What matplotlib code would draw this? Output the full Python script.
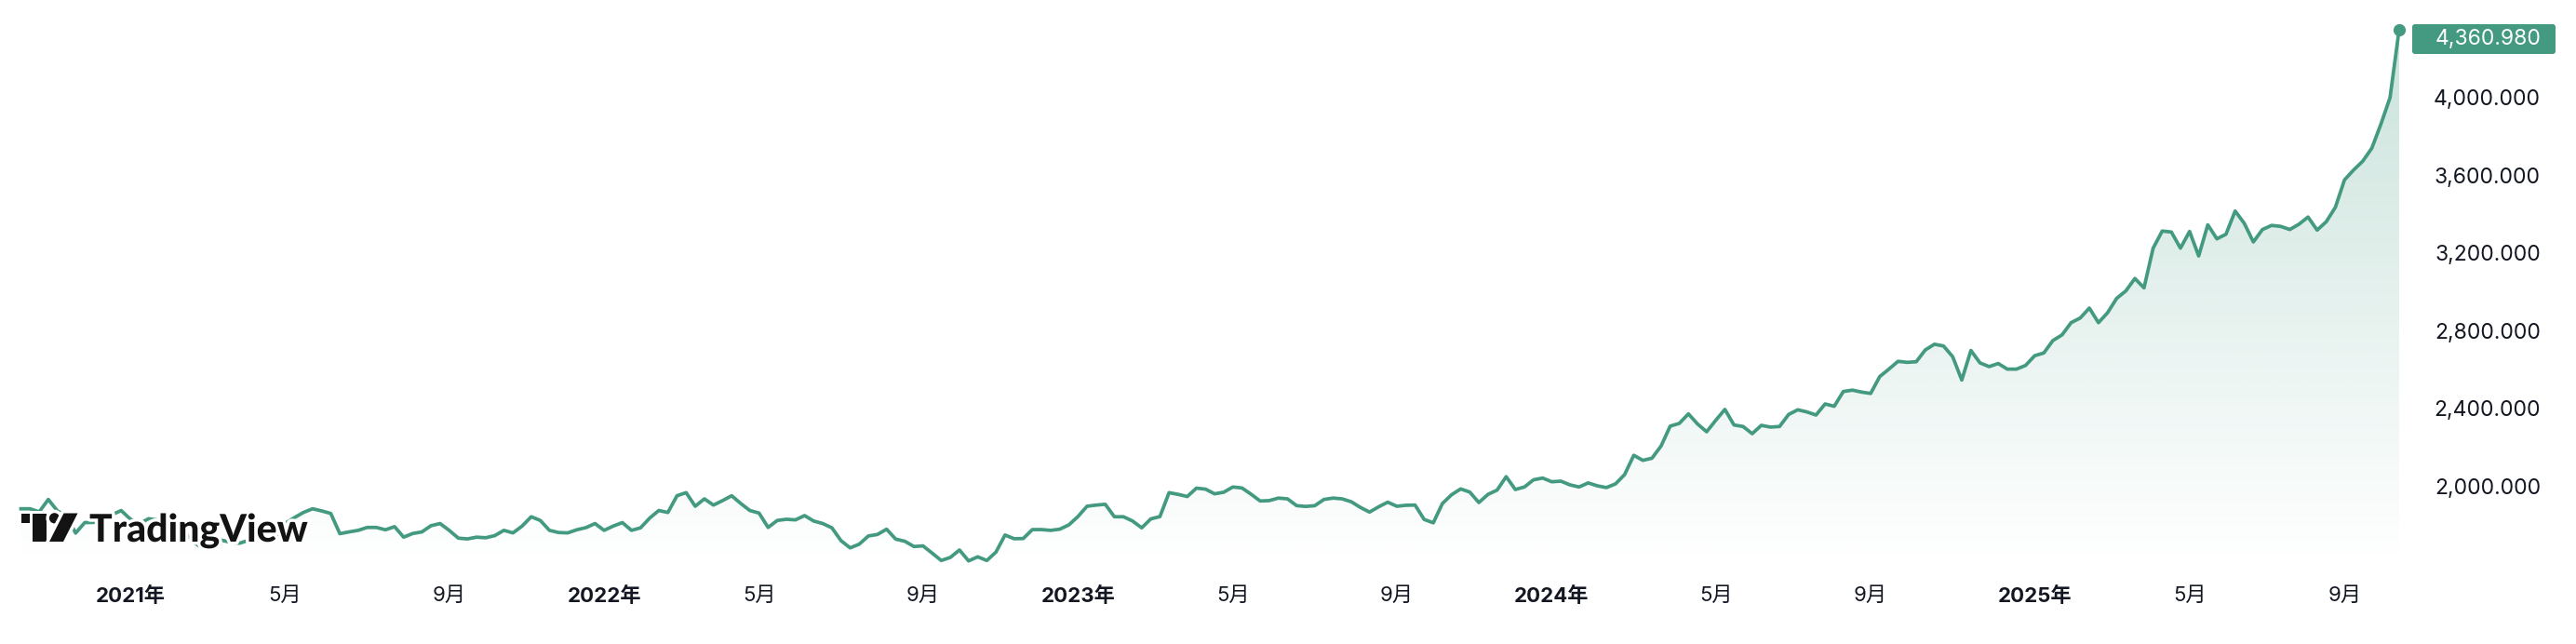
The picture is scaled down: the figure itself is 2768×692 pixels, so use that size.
import numpy as np
import pandas as pd
import matplotlib
matplotlib.use("Agg")
import matplotlib.pyplot as plt
import matplotlib.dates as mdates
import matplotlib.patheffects as pe
from matplotlib.patches import Rectangle, Circle, Polygon, FancyBboxPatch

# weekly closes (weeks starting Monday)
start_date = "2020-10-12"
v2020 = [1896, 1896, 1880, 1944, 1885, 1861, 1771, 1825, 1826, 1870, 1866, 1887]
v2021 = [1843, 1819, 1845, 1838, 1804, 1814, 1774, 1722, 1692, 1717, 1735, 1723, 1719,
         1734, 1767, 1767, 1759, 1821, 1850, 1877, 1896, 1885, 1872, 1768, 1777, 1785,
         1800, 1800, 1788, 1804, 1750, 1769, 1777, 1809, 1820, 1785, 1745, 1741, 1750,
         1747, 1758, 1785, 1772, 1807, 1855, 1836, 1785, 1774, 1772, 1788, 1799, 1820]
v2022 = [1785, 1807, 1825, 1785, 1798, 1848, 1887, 1877, 1963, 1979, 1909, 1947, 1915,
         1938, 1963, 1923, 1887, 1874, 1800, 1836, 1842, 1839, 1861, 1833, 1820, 1798,
         1732, 1695, 1714, 1756, 1764, 1791, 1740, 1729, 1702, 1705, 1668, 1630, 1646,
         1684, 1628, 1649, 1630, 1673, 1761, 1742, 1743, 1789, 1789, 1785, 1791, 1813]
v2023 = [1856, 1909, 1915, 1919, 1855, 1855, 1833, 1798, 1844, 1856, 1979, 1970, 1959,
         2002, 1997, 1973, 1981, 2008, 2003, 1971, 1936, 1938, 1951, 1947, 1912, 1908,
         1912, 1944, 1951, 1947, 1932, 1903, 1879, 1906, 1930, 1909, 1914, 1915, 1841,
         1824, 1923, 1968, 1998, 1982, 1928, 1970, 1992, 2061, 1995, 2008, 2045, 2054]
v2024 = [2035, 2038, 2019, 2008, 2029, 2014, 2005, 2024, 2072, 2171, 2145, 2156, 2219,
         2321, 2335, 2384, 2332, 2292, 2351, 2407, 2327, 2319, 2282, 2325, 2316, 2319,
         2381, 2405, 2394, 2378, 2435, 2423, 2499, 2506, 2496, 2489, 2576, 2614, 2654,
         2649, 2652, 2713, 2742, 2733, 2678, 2558, 2710, 2646, 2627, 2643, 2614, 2614, 2633]
v2025 = [2683, 2697, 2761, 2790, 2853, 2877, 2928, 2853, 2904, 2978, 3016, 3080, 3032,
         3236, 3324, 3319, 3236, 3322, 3196, 3356, 3284, 3308, 3427, 3364, 3268, 3332,
         3353, 3348, 3332, 3359, 3396, 3329, 3372, 3446, 3587, 3638, 3683, 3750, 3874,
         4010, 4360.98]

y_ticks = [2000, 2400, 2800, 3200, 3600, 4000]
tick_months = [1, 5, 9]

values = np.array(v2020 + v2021 + v2022 + v2023 + v2024 + v2025, dtype=float)
dates = pd.date_range(start_date, periods=len(values), freq="7D")

W, H = 2768, 692
LINE = "#439a80"
TEXT = "#131722"
FONT = ["Inter", "Noto Sans CJK SC", "DejaVu Sans"]

fig = plt.figure(figsize=(W / 100, H / 100), dpi=100)
plot_right, plot_bottom = 2590, 605
ax = fig.add_axes([0, 1 - plot_bottom / H, plot_right / W, plot_bottom / H])

y_lo, y_hi = 1617, 4512
x = mdates.date2num(dates)
ax.plot(dates, values, color=LINE, lw=2.7, zorder=3, solid_joinstyle="round")
ax.plot(dates[-1:], values[-1:], "o", color=LINE, ms=8.5, zorder=4)

# gradient area under the line
poly = ax.fill_between(x, values, y_lo, facecolor="none", edgecolor="none")
grad = np.zeros((256, 1, 4))
grad[:, 0, :3] = matplotlib.colors.to_rgb(LINE)
grad[:, 0, 3] = np.linspace(0.28, 0.0, 256)
im = ax.imshow(grad, aspect="auto", origin="upper",
               extent=[x[0], x[-1], y_lo, values.max()], zorder=2)
im.set_clip_path(poly.get_paths()[0], transform=ax.transData)

ax.set_xlim(x[0] - 16.1, x[-1] + 8.6)
ax.set_ylim(y_lo, y_hi)
ax.set_axis_off()

# price scale labels
for v in y_ticks:
    ax.text(2730 / plot_right, v, f"{v:,.3f}", transform=ax.get_yaxis_transform(),
            ha="right", va="center", fontsize=16.5, color=TEXT, family=FONT)

# time scale labels at first weekly bar of Jan / May / Sep
s = pd.Series(dates, index=dates)
firsts = s.groupby([dates.year, dates.month]).first()
for (yr, mo), d in firsts.items():
    if mo not in tick_months or d == dates[0]:
        continue
    if mo == 1:
        lab, wt = f"{yr}年", "bold"
    else:
        lab, wt = f"{mo}月", "normal"
    ax.text(d, -(640 - plot_bottom) / plot_bottom, lab, transform=ax.get_xaxis_transform(),
            ha="center", va="center", fontsize=16, fontweight=wt, color=TEXT, family=FONT)

# overlay in pixel coords for badge and logo
ov = fig.add_axes([0, 0, 1, 1], zorder=10)
ov.set_xlim(0, W)
ov.set_ylim(H, 0)
ov.set_axis_off()

badge = FancyBboxPatch((2592, 26), 154, 32, boxstyle="round,pad=0,rounding_size=3",
                       facecolor=LINE, edgecolor="none")
ov.add_patch(badge)
ov.text(2730, 42, f"{values[-1]:,.3f}", ha="right", va="center", fontsize=16.5,
        color="white", family=FONT)

halo = [pe.withStroke(linewidth=5, foreground="white")]
logo_col = "#131313"
for p in [Rectangle((23, 551.5), 27, 10, facecolor=logo_col),
          Rectangle((35, 551.5), 15, 30.5, facecolor=logo_col),
          Circle((58.5, 556.8), 5.6, facecolor=logo_col),
          Polygon([(53, 582), (68, 582), (83.5, 551.5), (68.5, 551.5)], facecolor=logo_col)]:
    p.set_edgecolor("none")
    p.set_path_effects(halo)
    ov.add_patch(p)
ov.text(96, 582, "TradingView", ha="left", va="baseline", fontsize=29.5, fontweight=900,
        color=logo_col, family=["Lato", "DejaVu Sans"], path_effects=halo)

fig.savefig("out.png", dpi=100, facecolor="white")
